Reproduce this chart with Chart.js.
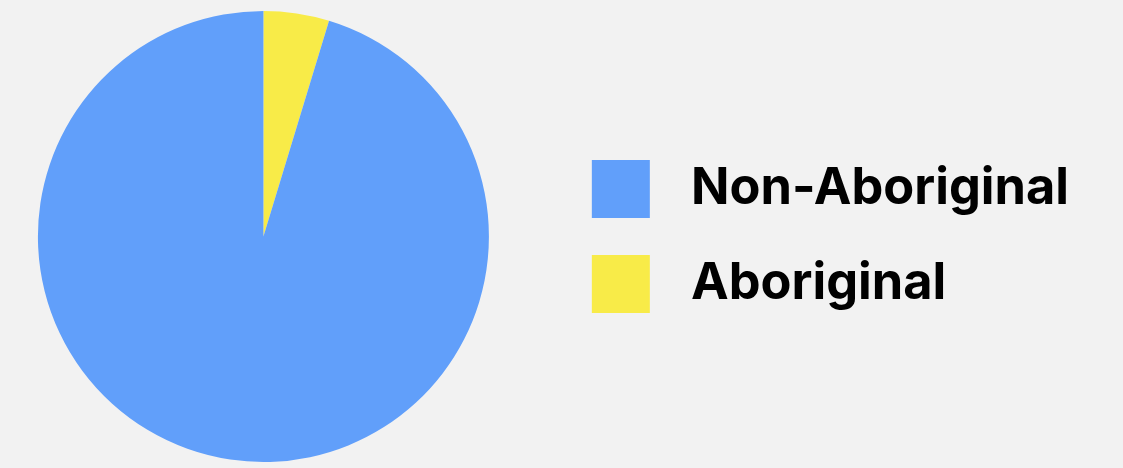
<!DOCTYPE html>
<html>
<head>
<meta charset="utf-8">
<script src="https://cdn.jsdelivr.net/npm/chart.js@4"></script>
<style>
  html, body { margin: 0; padding: 0; background: #f2f2f2; overflow: hidden; }
  /* canvas is nudged left so the pie sits where the original one does */
  #wrap { width: 1151px; height: 468px; margin-left: -28px; }
</style>
</head>
<body>
<div id="wrap"><canvas id="pie"></canvas></div>
<script>
const labels = ['Aboriginal', 'Non-Aboriginal']
const shares = [4.7, 95.3]
const colors = ['#f8eb48', '#619ffa']

new Chart(document.getElementById('pie'), {
  type: 'pie',
  data: {
    labels,
    datasets: [{
      data: shares,
      backgroundColor: colors,
      borderWidth: 0,
    }]
  },
  options: {
    responsive: true,
    maintainAspectRatio: false,
    animation: false,
    layout: { padding: { left: 0, top: 11, bottom: 6, right: 44 } },
    plugins: {
      tooltip: { enabled: false },
      legend: {
        position: 'right',
        reverse: true,
        labels: {
          color: '#000',
          font: { family: 'Inter', size: 50.5, weight: 'bold' },
          boxWidth: 58,
          boxHeight: 58,
          padding: 37,
          generateLabels(chart) {
            const items = Chart.overrides.pie.plugins.legend.labels.generateLabels(chart)
            // a little extra room between swatch and text
            items.forEach(it => { it.text = ' \u200A' + it.text })
            return items
          }
        }
      }
    }
  }
})
</script>
</body>
</html>
